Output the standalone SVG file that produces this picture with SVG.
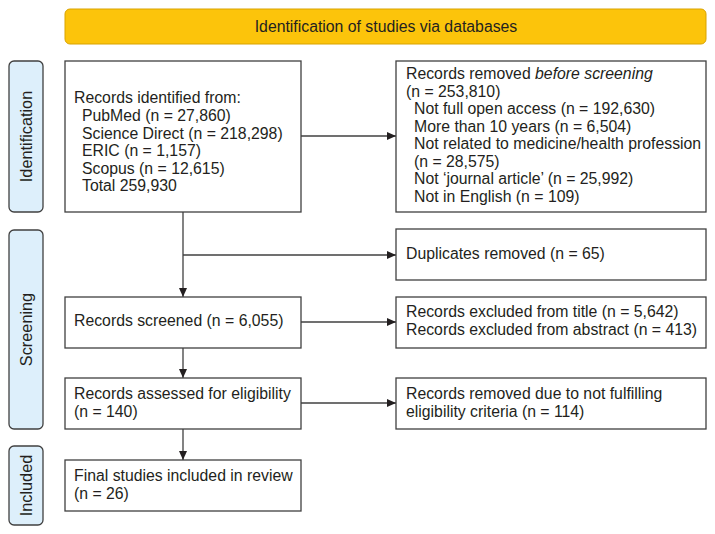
<svg xmlns="http://www.w3.org/2000/svg" width="715" height="534" viewBox="0 0 715 534">
<defs>
<style>
text{font-family:"Liberation Sans",Arial,sans-serif;font-size:15.8px;fill:#231f20}
.vt{font-size:16.3px}
.box{fill:#fff;stroke:#404040;stroke-width:1.3}
.side{fill:#ddeffb;stroke:#404040;stroke-width:1.3}
.hdr{fill:#fcc40b;stroke:#d9a300;stroke-width:1}
.con{stroke:#404040;stroke-width:1.3;fill:none}
</style>
<marker id="ah" markerWidth="9" markerHeight="8" refX="9" refY="4" orient="auto" markerUnits="userSpaceOnUse">
<path d="M0,0 L9,4 L0,8 Z" fill="#231f20"/>
</marker>
</defs>
<rect width="715" height="534" fill="#fff"/>
<g id="header">
<rect class="hdr" x="65" y="9" width="641" height="35" rx="5"/>
<text x="386" y="32" text-anchor="middle">Identification of studies via databases</text>
</g>
<g id="side-identification">
<rect class="side" x="9" y="61" width="34" height="151" rx="5"/>
<text class="vt" transform="translate(32,136.5) rotate(-90)" text-anchor="middle">Identification</text>
</g>
<g id="side-screening">
<rect class="side" x="9" y="230" width="34" height="199" rx="5"/>
<text class="vt" transform="translate(32,329.5) rotate(-90)" text-anchor="middle">Screening</text>
</g>
<g id="side-included">
<rect class="side" x="9" y="446" width="34" height="79" rx="5"/>
<text class="vt" transform="translate(32,485.5) rotate(-90)" text-anchor="middle">Included</text>
</g>
<g id="connectors">
<line class="con" x1="301" y1="136" x2="396" y2="136" marker-end="url(#ah)"/>
<line class="con" x1="183" y1="212" x2="183" y2="297" marker-end="url(#ah)"/>
<line class="con" x1="183" y1="255" x2="396" y2="255" marker-end="url(#ah)"/>
<line class="con" x1="301" y1="322" x2="396" y2="322" marker-end="url(#ah)"/>
<line class="con" x1="183" y1="348" x2="183" y2="378" marker-end="url(#ah)"/>
<line class="con" x1="301" y1="403" x2="396" y2="403" marker-end="url(#ah)"/>
<line class="con" x1="183" y1="429" x2="183" y2="460" marker-end="url(#ah)"/>
</g>
<g id="identified">
<rect class="box" x="65" y="61" width="236" height="151"/>
<text x="74" y="103">Records identified from:</text>
<text x="82" y="121">PubMed (n = 27,860)</text>
<text x="82" y="139">Science Direct (n = 218,298)</text>
<text x="82" y="156">ERIC (n = 1,157)</text>
<text x="82" y="174">Scopus (n = 12,615)</text>
<text x="82" y="191">Total 259,930</text>
</g>
<g id="removed-before">
<rect class="box" x="396" y="61" width="310" height="151"/>
<text x="406" y="79">Records removed <tspan font-style="italic">before screening</tspan></text>
<text x="406" y="97">(n = 253,810)</text>
<text x="414" y="114">Not full open access (n = 192,630)</text>
<text x="414" y="132">More than 10 years (n = 6,504)</text>
<text x="414" y="149">Not related to medicine/health profession</text>
<text x="414" y="167">(n = 28,575)</text>
<text x="414" y="184">Not ‘journal article’ (n = 25,992)</text>
<text x="414" y="202">Not in English (n = 109)</text>
</g>
<g id="duplicates">
<rect class="box" x="396" y="229" width="310" height="51"/>
<text x="406" y="259">Duplicates removed (n = 65)</text>
</g>
<g id="screened">
<rect class="box" x="65" y="297" width="236" height="51"/>
<text x="74" y="326">Records screened (n = 6,055)</text>
</g>
<g id="excluded">
<rect class="box" x="396" y="297" width="310" height="51"/>
<text x="406" y="317">Records excluded from title (n = 5,642)</text>
<text x="406" y="335">Records excluded from abstract (n = 413)</text>
</g>
<g id="eligibility">
<rect class="box" x="65" y="378" width="236" height="51"/>
<text x="74" y="399">Records assessed for eligibility</text>
<text x="74" y="417">(n = 140)</text>
</g>
<g id="removed-eligibility">
<rect class="box" x="396" y="378" width="310" height="51"/>
<text x="406" y="399">Records removed due to not fulfilling</text>
<text x="406" y="417">eligibility criteria (n = 114)</text>
</g>
<g id="final">
<rect class="box" x="65" y="460" width="236" height="51"/>
<text x="74" y="481">Final studies included in review</text>
<text x="74" y="499">(n = 26)</text>
</g>
</svg>
